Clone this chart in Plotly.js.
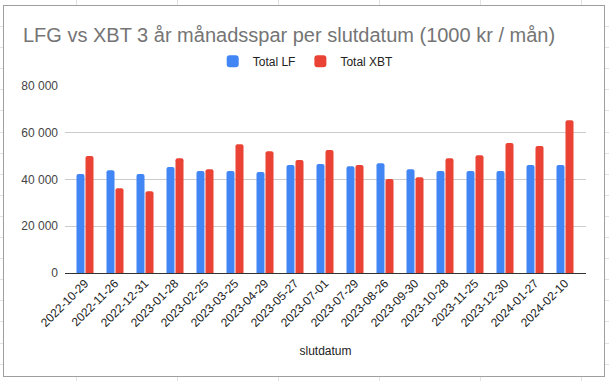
<!DOCTYPE html>
<html>
<head>
<meta charset="utf-8">
<script src="https://cdn.plot.ly/plotly-3.0.1.min.js"></script>
<style>
  html, body { margin: 0; padding: 0; width: 609px; height: 381px; overflow: hidden; background: #ffffff; }
  #sheet { position: absolute; left: 0; top: 0; width: 609px; height: 381px; }
  .vl { position: absolute; top: 0; width: 1px; height: 381px; background: #e2e2e2; }
  .hl { position: absolute; left: 0; width: 609px; height: 1px; background: #e2e2e2; }
  #frame { position: absolute; left: 3px; top: 5px; width: 600px; height: 370px; border: 1px solid #9e9e9e; background: #ffffff; }
  #chart { position: absolute; left: 0; top: 0; width: 609px; height: 381px; }
</style>
</head>
<body>
<div id="sheet"></div>
<div id="frame"></div>
<div id="chart"></div>
<script>
const categories = ["2022-10-29","2022-11-26","2022-12-31","2023-01-28","2023-02-25","2023-03-25","2023-04-29","2023-05-27","2023-07-01","2023-07-29","2023-08-26","2023-09-30","2023-10-28","2023-11-25","2023-12-30","2024-01-27","2024-02-10"];
const totalLF  = [42300,44000,42300,45300,43600,43600,43200,46200,46600,45700,47000,44400,43600,43600,43600,46200,46200];
const totalXBT = [50000,36300,35000,49100,44400,55100,52100,48300,52600,46200,40200,41000,49100,50400,55600,54300,65400];
const yTicks = [0,20000,40000,60000,80000];

// spreadsheet background grid
const sheet = document.getElementById('sheet');
[76,177,278,379,480,581].forEach(x => {
  const d = document.createElement('div'); d.className = 'vl'; d.style.left = x + 'px'; sheet.appendChild(d);
});
for (let k = 0; k < 18; k++) {
  const d = document.createElement('div'); d.className = 'hl'; d.style.top = Math.round(26 + 21.1 * k) + 'px'; sheet.appendChild(d);
}

const traces = [
  { type: 'bar', name: 'Total LF', x: categories, y: totalLF, marker: { color: '#4285F4' }, hoverinfo: 'x+y' },
  { type: 'bar', name: 'Total XBT', x: categories, y: totalXBT, marker: { color: '#EA4335' }, hoverinfo: 'x+y' }
];

const layout = {
  width: 609, height: 381,
  paper_bgcolor: 'rgba(0,0,0,0)', plot_bgcolor: 'rgba(0,0,0,0)',
  font: { family: 'Arial, "Liberation Sans", sans-serif', size: 12, color: '#222222' },
  separators: ', ',
  margin: { l: 65, r: 23, t: 86, b: 108, pad: 0 },
  barmode: 'group', bargap: 0.4, bargroupgap: 0.11, barcornerradius: 2,
  title: {
    text: 'LFG vs XBT 3 år månadsspar per slutdatum (1000 kr / mån)',
    font: { size: 20, color: '#757575', family: 'Arial, "Liberation Sans", sans-serif' },
    x: 23 / 609, xanchor: 'left', xref: 'container',
    y: 1 - 35 / 381, yanchor: 'middle', yref: 'container'
  },
  showlegend: true,
  legend: {
    orientation: 'h', x: 0.462, xanchor: 'center', y: 1.133, yanchor: 'middle',
    font: { size: 12, color: '#222222' }, itemclick: false
  },
  xaxis: {
    type: 'category', range: [-0.667, 16.7], tickangle: -45,
    tickfont: { size: 12, color: '#222222' },
    showgrid: false, showline: false, ticks: '',
    title: { text: 'slutdatum', font: { size: 12, color: '#222222' }, standoff: 17 }
  },
  yaxis: {
    range: [0, 80000], tickvals: yTicks, tickformat: ',d',
    tickfont: { size: 12, color: '#444444' },
    showgrid: true, gridcolor: '#cccccc', gridwidth: 1,
    zeroline: true, zerolinecolor: '#333333', zerolinewidth: 1,
    showline: false, ticks: '', ticklabelstandoff: 6
  }
};

Plotly.newPlot('chart', traces, layout, { displayModeBar: false, staticPlot: true });
</script>
</body>
</html>
